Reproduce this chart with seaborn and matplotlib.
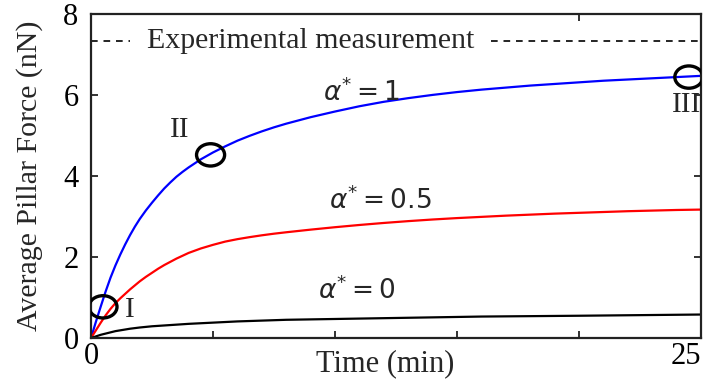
import pandas as pd
import seaborn as sns
import matplotlib.pyplot as plt
from matplotlib.patches import Ellipse

# values
time_min = [0, 0.2, 0.4, 0.6, 0.8, 1.0, 1.2, 1.4, 1.6, 1.8, 2.0, 2.25, 2.5, 2.75,
            3.0, 3.25, 3.5, 3.75, 4.0, 4.5, 5.0, 5.5, 6.0, 6.5, 7.0, 7.5, 8.0,
            9, 10, 11, 12, 13, 14, 15, 16, 17, 18, 19, 20, 21, 22, 23, 24, 25]
force_a1 = [0, 0.4, 0.78, 1.15, 1.49, 1.79, 2.06, 2.31, 2.54, 2.75, 2.94, 3.15,
            3.34, 3.52, 3.69, 3.84, 3.98, 4.1, 4.21, 4.41, 4.58, 4.73, 4.87, 4.99,
            5.1, 5.2, 5.29, 5.45, 5.59, 5.72, 5.83, 5.92, 6.0, 6.07, 6.13, 6.18,
            6.23, 6.27, 6.31, 6.35, 6.38, 6.41, 6.44, 6.47]
force_a05 = [0, 0.19, 0.38, 0.56, 0.72, 0.86, 0.98, 1.09, 1.2, 1.3, 1.4, 1.51,
             1.61, 1.71, 1.8, 1.88, 1.96, 2.03, 2.1, 2.21, 2.3, 2.38, 2.44, 2.49,
             2.535, 2.575, 2.61, 2.675, 2.735, 2.79, 2.84, 2.885, 2.925, 2.96,
             2.99, 3.02, 3.045, 3.07, 3.09, 3.11, 3.13, 3.145, 3.16, 3.17]
force_a0 = [0, 0.04, 0.08, 0.11, 0.14, 0.17, 0.19, 0.21, 0.23, 0.245, 0.26, 0.275,
            0.29, 0.3, 0.31, 0.32, 0.33, 0.34, 0.35, 0.365, 0.38, 0.395, 0.41,
            0.42, 0.43, 0.44, 0.45, 0.46, 0.47, 0.48, 0.49, 0.5, 0.51, 0.52, 0.53,
            0.535, 0.54, 0.545, 0.55, 0.556, 0.562, 0.568, 0.574, 0.58]
experimental = 7.32

curve_labels = [r'$\alpha^{*} = 1$', r'$\alpha^{*} = 0.5$', r'$\alpha^{*} = 0$']
curve_label_pos = [(11.1, 6.07), (11.85, 3.41), (10.9, 1.19)]

stage_names = ['I', 'II', 'III']
stage_points = [(0.49, 0.77), (4.9, 4.52), (24.5, 6.44)]
stage_label_pos = [(1.6, 0.69), (3.65, 5.14), (24.4, 5.75)]

df = pd.DataFrame({
    'time': time_min * 3,
    'force': force_a1 + force_a05 + force_a0,
    'alpha': ['1'] * len(time_min) + ['0.5'] * len(time_min) + ['0'] * len(time_min),
})

sns.set_theme(style='white')
plt.rcParams['font.family'] = ['Liberation Serif', 'DejaVu Serif']
plt.rcParams['mathtext.fontset'] = 'dejavusans'

fig, ax = plt.subplots(figsize=(7.11, 3.85), dpi=100)
fig.subplots_adjust(left=0.128, right=0.986, bottom=0.122, top=0.964)

sns.lineplot(data=df, x='time', y='force', hue='alpha',
             palette={'1': '#0000ff', '0.5': '#ff0000', '0': '#000000'},
             linewidth=1.6, legend=False, ax=ax)

# experimental measurement line; the label's white box hides the dashes behind it
ax.axhline(experimental, color='black', linestyle=(0, (4, 3.5)), linewidth=1.2)
ax.text(9.0, experimental, 'Experimental measurement', fontsize=21.5,
        ha='center', va='center', zorder=2.2,
        bbox=dict(facecolor='white', edgecolor='none', pad=12))

for lab, (x, y) in zip(curve_labels, curve_label_pos):
    ax.text(x, y, lab, fontsize=19, ha='center', va='center')

for name, (x, y), (lx, ly) in zip(stage_names, stage_points, stage_label_pos):
    ax.add_patch(Ellipse((x, y), 1.15, 0.55, fill=False, edgecolor='black',
                         linewidth=2.4, zorder=5))
    ax.text(lx, ly, name, fontsize=21, ha='center', va='center')

ax.set_xlim(0, 25)
ax.set_ylim(0, 8)
ax.set_xticks([0, 5, 10, 15, 20, 25])
ax.set_xticklabels(['0', '', '', '', '', '25'])
ax.set_yticks([0, 2, 4, 6, 8])
ax.tick_params(direction='in', length=5, width=1.3, colors='#222222',
               labelcolor='black', labelsize=22, top=True, right=True,
               bottom=True, left=True)
ax.tick_params(axis='x', pad=3)
ax.tick_params(axis='y', pad=9)
ax.get_xticklabels()[-1].set_ha('right')
ax.set_xlabel('Time (min)', fontsize=22)
ax.xaxis.set_label_coords(0.482, -0.035)
ax.set_ylabel('Average Pillar Force (nN)', fontsize=21.5)
ax.yaxis.set_label_coords(-0.078, 0.5)
for sp in ax.spines.values():
    sp.set_linewidth(1.6)
    sp.set_color('#222222')
    sp.set_zorder(3)

plt.savefig('out.png', dpi=100)
plt.close()
